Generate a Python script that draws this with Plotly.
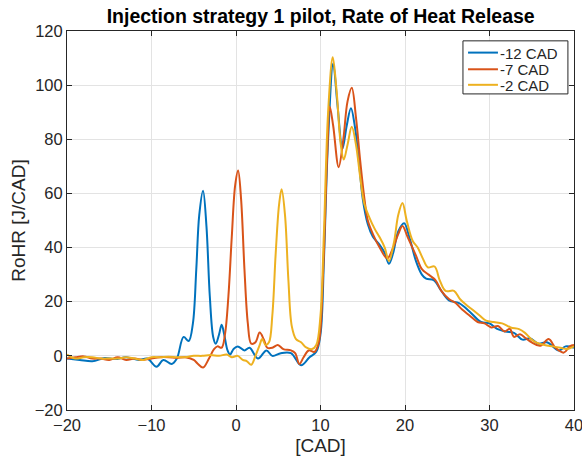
import plotly.graph_objects as go

# -12 CAD injection
x_m12 = [-20, -18.5, -17, -15.5, -14.3, -13, -11.5, -10.5, -9.4, -8.6, -7.6, -7, -6.2, -5.6, -5.1, -4.7,
         -4.35, -3.9, -3.5, -3.1, -2.7, -2.4, -2.0, -1.7, -1.4, -1.0, -0.7, -0.3, 0.2, 1.0, 1.6, 2.6, 3.6,
         4.3, 5.3, 6.5, 7.7, 8.7, 9.5, 10.0, 10.4, 10.9, 11.5, 12.0, 12.6, 13.1, 13.6, 14.1, 14.6, 15.0,
         15.6, 16.2, 17.0, 17.6, 18.1, 18.6, 19.2, 19.9, 20.5, 21.3, 22.0, 22.5, 23.4, 24.2, 25.2, 26.4,
         27.6, 29.0, 30.0, 30.9, 31.9, 32.9, 33.9, 34.8, 35.8, 36.8, 38.2, 39.0, 40]
y_m12 = [-1, -1.5, -2, -0.8, -1.2, -0.5, -1.5, -1, -4, -1.5, -3, -1, 7, 5.5, 12, 32,
         52, 61, 48, 22, 7, 4.5, 8, 11.5, 8, 2, 0.5, 2.5, 3.5, 2, 3, -1, 2,
         0, 1, 1, -3.5, -0.5, 1.5, 8, 35, 80, 108, 93, 76.5, 85, 91.5, 84, 70, 58,
         48.6, 44, 41, 38, 34, 38, 46, 49, 44, 35, 30, 28.5, 28, 24.5, 20.5, 19.5,
         16.5, 12.5, 12, 10, 9, 8.5, 6, 6.5, 4.5, 5, 2, 3.5, 3]

# -7 CAD injection
x_m7 = [-20, -19, -18, -17, -16, -15, -14, -13, -12, -11, -10, -9, -8, -7, -6, -5, -4.5, -3.9,
        -3.2, -2.6, -2.2, -1.7, -1.3, -0.9, -0.5, -0.1, 0.25, 0.6, 1.0, 1.4, 1.8, 2.3, 2.8, 3.3,
        3.7, 4.3, 4.95, 5.6, 6.5, 7.0, 7.5, 8.0, 8.6, 9.3, 9.8, 10.3, 10.8, 11.1, 11.5, 12.15,
        12.7, 13.2, 13.7, 14.2, 14.7, 15.2, 15.6, 16.2, 17.0, 17.9, 18.6, 19.2, 19.7, 20.3, 21.3,
        22.0, 22.8, 23.6, 24.3, 25.2, 26.0, 26.8, 27.6, 28.6, 29.4, 30.2, 31.0, 31.8, 32.4, 32.9,
        33.6, 34.3, 35.0, 36.0, 37.0, 37.8, 38.8, 39.5, 40]
y_m7 = [-1, -0.5, -0.2, -1, -1, -1.5, -0.5, -1.5, -1, -1.5, -1, -0.5, -0.5, -0.8, -0.5, -1.5, -3, -4.3,
        -1, 2.5, 3.5, 3, 8, 22, 44, 63, 68.5, 58, 32, 12, 4.5, 5, 8.6, 6,
        3, 3, 4, 2.5, 2, 1, -3, -0.5, 2, 1.5, 5, 30, 75, 92, 85, 69.7,
        80, 94, 99, 88, 72, 58, 50, 45, 40, 36, 40, 45, 48, 44, 37,
        32, 30, 28, 24, 21, 19.5, 17, 15, 12.5, 12, 10.5, 11, 9, 10, 7,
        8, 6.5, 5, 3.7, 6.2, 3, 1.2, 3.5, 4]

# -2 CAD injection
x_m2 = [-20, -19, -18, -17, -16, -15, -14, -13, -12, -11, -10, -9, -8, -7, -6, -5, -4, -3, -2,
        -1.1, -0.5, 0.2, 0.8, 1.3, 1.8, 2.3, 2.8, 3.1, 3.5, 3.9, 4.3, 4.7, 5.1, 5.4, 5.8, 6.2,
        6.6, 7.1, 7.7, 8.3, 9.0, 9.5, 10.0, 10.4, 10.9, 11.45, 11.9, 12.4, 12.75, 13.2, 13.7, 14.2,
        14.7, 15.2, 15.8, 16.4, 17.0, 17.6, 18.1, 18.7, 19.2, 19.7, 20.2, 20.9, 21.5, 22.1, 22.7,
        23.5, 24.1, 24.8, 25.8, 26.5, 27.2, 28.0, 28.8, 29.6, 30.5, 31.5, 32.5, 33.5, 34.2, 35.0,
        35.5, 36.5, 37.5, 38.4, 39.2, 40]
y_m2 = [0.5, -1, -0.5, -0.5, -1, -1, -1, -0.5, -1, -1.5, -0.5, -0.5, -0.3, -0.5, -0.5, 0, 0, 0.3, 0,
        0.5, -0.5, 0, -1.5, -2, -3.3, 0, 4, 6.2, 4, 5, 15, 38, 56, 61.5, 52, 28,
        11, 6.2, 5, 3.1, 2.5, 4, 15, 45, 90, 110.3, 98, 78, 72.5, 78, 84.6, 78,
        66, 56, 51, 47, 43.8, 40, 35, 42, 52, 56.5, 50, 42.5, 40, 36, 32.7,
        33, 28, 24, 24, 21, 19, 17, 15, 13, 12.5, 12, 10.5, 9.9, 8.5, 6,
        5, 4, 3.5, 3, 2.5, 3.5]

series = [
    ('-12 CAD', x_m12, y_m12, '#0072BD'),
    ('-7 CAD', x_m7, y_m7, '#D95319'),
    ('-2 CAD', x_m2, y_m2, '#EDB120'),
]

ink = '#262626'
fig = go.Figure()
for name, xs, ys, col in series:
    fig.add_trace(go.Scatter(x=xs, y=ys, name=name, mode='lines', showlegend=False,
                             line=dict(color=col, width=2, shape='spline', smoothing=1.0)))

# MATLAB style legend box, top right of the axes
fig.add_shape(type='rect', xref='paper', yref='paper', x0=0.781, x1=0.988, y0=0.834, y1=0.974,
              line=dict(color=ink, width=1), fillcolor='white', layer='above')
row_y = [0.943, 0.899, 0.858]
for (name, xs, ys, col), ry in zip(series, row_y):
    fig.add_shape(type='line', xref='paper', yref='paper', x0=0.791, x1=0.850, y0=ry, y1=ry,
                  line=dict(color=col, width=2), layer='above')
    fig.add_annotation(xref='paper', yref='paper', x=0.853, y=ry, text=name, showarrow=False,
                       xanchor='left', yanchor='middle', height=14, borderpad=0,
                       font=dict(size=15, color=ink))

axis_style = dict(showline=True, linecolor=ink, linewidth=1, mirror='ticks',
                  ticks='inside', ticklen=5, tickcolor=ink, automargin=False,
                  showgrid=True, gridcolor='#e3e3e3', gridwidth=1, zeroline=False,
                  ticklabeloverflow='allow', tickfont=dict(size=16.5, color=ink))

fig.update_xaxes(range=[-20, 40], dtick=10, title=dict(text='[CAD]', font=dict(size=19, color=ink), standoff=5),
                 **axis_style)
fig.update_yaxes(range=[-20, 120], dtick=20, title=dict(text='RoHR [J/CAD]', font=dict(size=19, color=ink), standoff=4),
                 **axis_style)

fig.update_layout(
    width=582, height=459, autosize=False,
    margin=dict(l=67, r=8, t=31, b=49),
    paper_bgcolor='white', plot_bgcolor='white',
    font=dict(family='Liberation Sans, Arial, sans-serif', color=ink),
    title=dict(text='<b>Injection strategy 1 pilot, Rate of Heat Release</b>', x=0.551, xanchor='center',
               y=0.965, yanchor='middle', font=dict(size=19.5, color='black')),
)

fig.write_html('out.html', config={'displayModeBar': False, 'responsive': False},
               post_script="document.body.style.margin='0';document.documentElement.style.overflow='hidden';")
